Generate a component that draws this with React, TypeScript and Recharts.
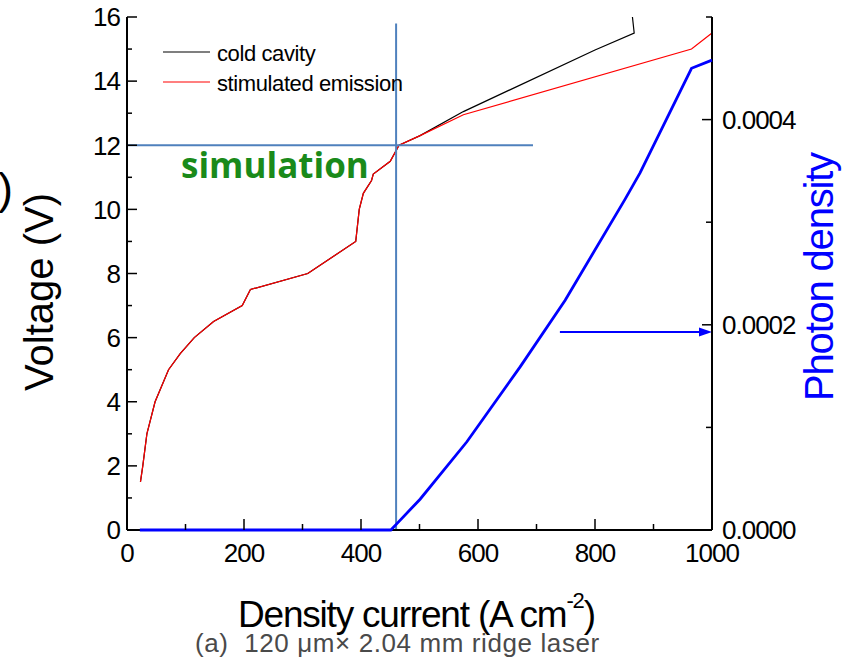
import React from "react";
import { LineChart, Line, XAxis, YAxis, ReferenceLine, Legend, Label } from "recharts";

// current density (A cm^-2) vs voltage (V)
const coldX = [23, 27, 34, 48, 71, 91, 115, 148, 197, 211, 309, 391, 397, 404, 418, 421, 450, 465, 501, 575, 800, 867, 864];
const coldV = [1.5, 2, 3, 4, 5, 5.5, 6, 6.5, 7, 7.5, 8, 9, 10, 10.5, 10.9, 11.1, 11.5, 12, 12.3, 13.05, 14.97, 15.5, 16];
const stimX = [23, 27, 34, 48, 71, 91, 115, 148, 197, 211, 309, 391, 397, 404, 418, 421, 450, 465, 501, 575, 965, 1000];
const stimV = [1.5, 2, 3, 4, 5, 5.5, 6, 6.5, 7, 7.5, 8, 9, 10, 10.5, 10.9, 11.1, 11.5, 12, 12.3, 12.95, 15, 15.5];

// photon density (right axis)
const photonX = [22, 451, 461, 501, 581, 672, 749, 851, 877, 965, 1000];
const photonN = [0, 0, 0.000006, 0.00003, 0.000086, 0.000159, 0.000224, 0.000322, 0.000348, 0.00045, 0.000458];

const xTicks = [0, 100, 200, 300, 400, 500, 600, 700, 800, 900, 1000];
const vTicks = [0, 1, 2, 3, 4, 5, 6, 7, 8, 9, 10, 11, 12, 13, 14, 15, 16];
const nTicks = [0, 0.0001, 0.0002, 0.0003, 0.0004, 0.0005];

// annotations
const thresholdX = 460;
const thresholdV = 12;
const markerTopV = 15.8;
const markerEndX = 694;
const arrowFromX = 740;
const arrowN = 0.000193;

const coldData = coldX.map((x, i) => ({ x, v: coldV[i] }));
const stimData = stimX.map((x, i) => ({ x, v: stimV[i] }));
const photonData = photonX.map((x, i) => ({ x, n: photonN[i] }));

const FONT = "'Liberation Sans', Arial, sans-serif";
const TM = 8;
const tickText = { fontFamily: FONT, fontSize: 26, letterSpacing: -1, fill: "#000" };
const guide = "#4f81bd";

const BottomTick = ({ x, y, payload }: any) => {
  const major = payload.value % 200 === 0;
  const ay = y - TM;
  return (
    <g>
      <line x1={x} x2={x} y1={ay} y2={ay - (major ? 11 : 6)} stroke="#000" strokeWidth={1.5} />
      {major && (
        <text x={x} y={ay + 32} textAnchor="middle" {...tickText}>
          {payload.value}
        </text>
      )}
    </g>
  );
};

const TopTick = ({ x, y, payload }: any) => {
  const major = payload.value % 200 === 0;
  const ay = y + TM;
  return <line x1={x} x2={x} y1={ay} y2={ay + (major ? 10 : 6)} stroke="#000" strokeWidth={1.5} />;
};

const LeftTick = ({ x, y, payload }: any) => {
  const major = payload.value % 2 === 0;
  const ax = x + TM;
  return (
    <g>
      <line x1={ax} x2={ax + (major ? 10 : 5)} y1={y} y2={y} stroke="#000" strokeWidth={1.5} />
      {major && (
        <text x={ax - 7} y={y} dy="0.36em" textAnchor="end" {...tickText}>
          {payload.value}
        </text>
      )}
    </g>
  );
};

const RightTick = ({ x, y, payload }: any) => {
  const major = Math.round(payload.value * 10000) % 2 === 0;
  const ax = x - TM;
  return (
    <g>
      <line x1={ax} x2={ax - (major ? 10 : 6)} y1={y} y2={y} stroke="#000" strokeWidth={1.5} />
      {major && payload.value < 0.0005 && (
        <text x={ax + 10} y={y} dy="0.36em" textAnchor="start" {...tickText}>
          {payload.value.toFixed(4)}
        </text>
      )}
    </g>
  );
};

const ArrowShape = (props: any) => {
  const { x1, y1, x2, y2 } = props;
  return (
    <g>
      <line x1={x1} y1={y1} x2={x2 - 10} y2={y2} stroke="#0000ff" strokeWidth={2} />
      <polygon points={`${x2},${y2} ${x2 - 13},${y2 - 4.5} ${x2 - 13},${y2 + 4.5}`} fill="#0000ff" />
    </g>
  );
};

const LegendBox = ({ payload }: any) => {
  const items = (payload || []).filter((p: any) => p.type !== "none" && p.value !== "Photon density");
  return (
    <div style={{ position: "relative", width: 260, height: 60 }}>
      {items.map((it: any, i: number) => (
        <div key={it.value} style={{ position: "absolute", left: 0, top: i * 30, height: 30, display: "flex", alignItems: "center" }}>
          <svg width={47} height={4} style={{ display: "block" }}>
            <line x1={0} x2={47} y1={2} y2={2} stroke={it.color} strokeWidth={1.2} />
          </svg>
          <span style={{ marginLeft: 7, position: "relative", top: 2, fontFamily: FONT, fontSize: 22, letterSpacing: -0.4, color: "#000", whiteSpace: "nowrap" }}>
            {it.value}
          </span>
        </div>
      ))}
    </div>
  );
};

export default function App() {
  return (
    <div style={{ position: "absolute", left: 0, top: 0, width: 850, height: 657, background: "#fff" }}>
      <LineChart width={850} height={657} margin={{ top: 17, right: 0, bottom: 0, left: 0 }}>
        <XAxis
          dataKey="x"
          type="number"
          domain={[0, 1000]}
          ticks={xTicks}
          interval={0}
          height={127}
          tickSize={0}
          tickMargin={TM}
          tick={<BottomTick />}
          axisLine={{ stroke: "#000", strokeWidth: 2 }}
        >
          <Label
            content={() => (
              <text x={238} y={627} fontFamily={FONT} fontSize={37} letterSpacing={-1.2} fill="#000">
                Density current (A cm
                <tspan dy={-19} fontSize={22}>-2</tspan>
                <tspan dy={19}>)</tspan>
              </text>
            )}
          />
        </XAxis>
        <XAxis
          xAxisId="top"
          orientation="top"
          type="number"
          domain={[0, 1000]}
          ticks={xTicks}
          interval={0}
          height={0}
          tickSize={0}
          tickMargin={TM}
          tick={<TopTick />}
          axisLine={{ stroke: "#000", strokeWidth: 2 }}
        />
        <YAxis
          yAxisId="left"
          type="number"
          domain={[0, 16]}
          ticks={vTicks}
          interval={0}
          width={127}
          tickSize={0}
          tickMargin={TM}
          tick={<LeftTick />}
          axisLine={{ stroke: "#000", strokeWidth: 2 }}
        >
          <Label
            content={() => (
              <text transform="translate(53,292) rotate(-90)" textAnchor="middle" fontFamily={FONT} fontSize={40} fill="#000">
                Voltage (V)
              </text>
            )}
          />
        </YAxis>
        <YAxis
          yAxisId="right"
          orientation="right"
          type="number"
          domain={[0, 0.0005]}
          ticks={nTicks}
          interval={0}
          width={138}
          tickSize={0}
          tickMargin={TM}
          tick={<RightTick />}
          axisLine={{ stroke: "#000", strokeWidth: 2 }}
        >
          <Label
            content={() => (
              <text transform="translate(833,277) rotate(-90)" textAnchor="middle" fontFamily={FONT} fontSize={40} letterSpacing={-1.2} fill="#0000ff">
                Photon density
              </text>
            )}
          />
        </YAxis>

        <Legend
          layout="vertical"
          align="center"
          verticalAlign="middle"
          content={<LegendBox />}
          wrapperStyle={{ position: "absolute", left: 163, top: 37, width: 260, height: 60 }}
        />

        <Line yAxisId="left" data={coldData} dataKey="v" name="cold cavity" type="linear" stroke="#000" strokeWidth={1.2} dot={false} isAnimationActive={false} />
        <Line yAxisId="left" data={stimData} dataKey="v" name="stimulated emission" type="linear" stroke="#ff0000" strokeWidth={1.2} dot={false} isAnimationActive={false} />
        <Line
          yAxisId="right"
          data={photonData}
          dataKey="n"
          name="Photon density"
          legendType="none"
          type="linear"
          stroke="#0000ff"
          strokeWidth={2.8}
          dot={false}
          isAnimationActive={false}
          zIndex={1000}
        />

        <ReferenceLine yAxisId="left" segment={[{ x: thresholdX, y: 0 }, { x: thresholdX, y: markerTopV }]} stroke={guide} strokeWidth={2} />
        <ReferenceLine yAxisId="left" segment={[{ x: 0, y: thresholdV }, { x: markerEndX, y: thresholdV }]} stroke={guide} strokeWidth={2} />
        <ReferenceLine yAxisId="right" segment={[{ x: arrowFromX, y: arrowN }, { x: 1000, y: arrowN }]} shape={ArrowShape} />

        <text x={181} y={178} fontFamily="'Open Sans', sans-serif" fontWeight="bold" fontSize={35} fill="#1a8a1a">
          simulation
        </text>
        <text x={-2} y={204} fontFamily={FONT} fontSize={45} fill="#000">
          )
        </text>
        <text x={195} y={652} fontFamily={FONT} fontSize={26} letterSpacing={0.6} fill="#4a4a4a" style={{ whiteSpace: "pre" }}>
          {"(a)  120 \u03bcm\u00d7 2.04 mm ridge laser"}
        </text>
      </LineChart>
    </div>
  );
}
